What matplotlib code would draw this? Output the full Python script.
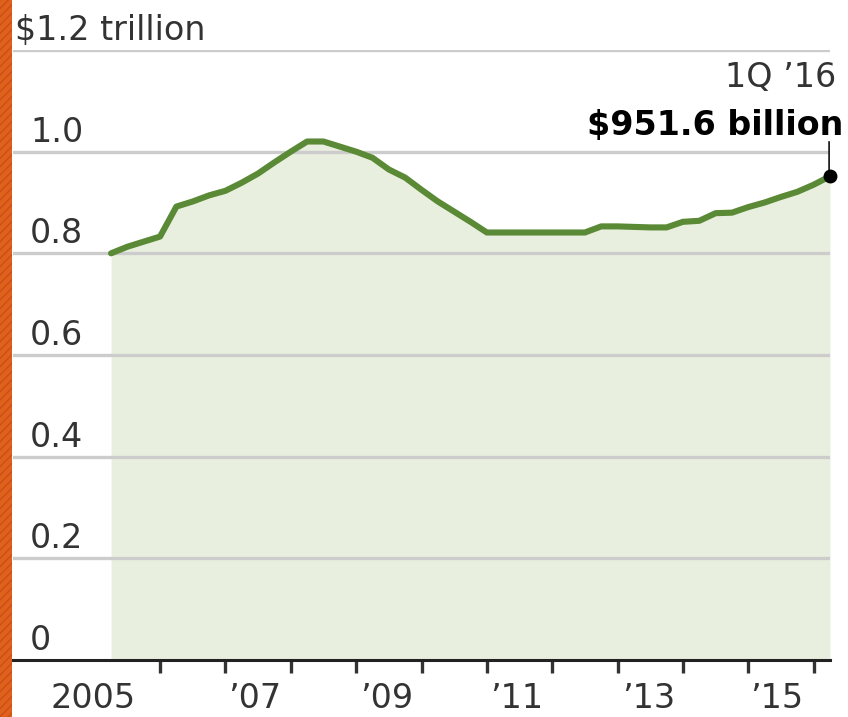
import matplotlib
matplotlib.use('Agg')
import matplotlib.pyplot as plt
import matplotlib.patches as patches
import matplotlib.transforms as mtransforms

# Quarterly values, $ trillion
quarters = [
    '2005Q1', '2005Q2', '2005Q3', '2005Q4',
    '2006Q1', '2006Q2', '2006Q3', '2006Q4',
    '2007Q1', '2007Q2', '2007Q3', '2007Q4',
    '2008Q1', '2008Q2', '2008Q3', '2008Q4',
    '2009Q1', '2009Q2', '2009Q3', '2009Q4',
    '2010Q1', '2010Q2', '2010Q3', '2010Q4',
    '2011Q1', '2011Q2', '2011Q3', '2011Q4',
    '2012Q1', '2012Q2', '2012Q3', '2012Q4',
    '2013Q1', '2013Q2', '2013Q3', '2013Q4',
    '2014Q1', '2014Q2', '2014Q3', '2014Q4',
    '2015Q1', '2015Q2', '2015Q3', '2015Q4',
    '2016Q1',
]
values = [
    0.800, 0.813, 0.823, 0.833,
    0.892, 0.902, 0.914, 0.923,
    0.939, 0.957, 0.979, 1.000,
    1.020, 1.020, 1.010, 1.000,
    0.988, 0.965, 0.949, 0.925,
    0.902, 0.882, 0.862, 0.841,
    0.841, 0.841, 0.841, 0.841,
    0.841, 0.841, 0.853, 0.853,
    0.852, 0.851, 0.851, 0.862,
    0.864, 0.879, 0.880, 0.891,
    0.900, 0.911, 0.921, 0.935,
    0.9516,
]

y_ticks = [0, 0.2, 0.4, 0.6, 0.8, 1.0]
y_tick_labels = ['0', '0.2', '0.4', '0.6', '0.8', '1.0']
year_ticks = [2006, 2007, 2008, 2009, 2010, 2011, 2012, 2013, 2014, 2015, 2016]
x_label_pos = [2004.98, 2007.45, 2009.47, 2011.45, 2013.47, 2015.43]
x_labels = ['2005', '\u201907', '\u201909', '\u201911', '\u201913', '\u201915']

# quarter -> decimal year at quarter end
x = [int(q[:4]) + int(q[-1]) / 4 for q in quarters]

LINE = '#5a8a35'
FILL = '#e9efdf'
GRID = '#cccccc'
TXT = '#333333'
FS = 24

plt.rcParams['font.family'] = ['DejaVu Sans']

fig = plt.figure(figsize=(8.48, 7.17), dpi=100)
fig.patch.set_facecolor('white')

# orange strip on the left edge
fig.patches.append(patches.Rectangle((0, 0), 12 / 848, 1, transform=fig.transFigure,
                                     facecolor='#e0601c', edgecolor='#c9501a',
                                     hatch='////', linewidth=0, zorder=0))

ax = fig.add_axes([13 / 848, 57 / 717, 817 / 848, 610 / 717])
ax.set_xlim(2003.75, 2016.25)
ax.set_ylim(0, 1.2)
ax.set_facecolor('white')

ax.fill_between(x, values, 0, color=FILL, linewidth=0, zorder=1)
for v in y_ticks[1:] + [1.2]:
    ax.axhline(v, color=GRID, linewidth=2.4, zorder=2)
ax.plot(x, values, color=LINE, linewidth=4.4, solid_joinstyle='round',
        solid_capstyle='round', zorder=3)

for s in ['top', 'right', 'left']:
    ax.spines[s].set_visible(False)
ax.spines['bottom'].set_color('#222222')
ax.spines['bottom'].set_linewidth(2.2)
ax.spines['bottom'].set_zorder(4)

ax.set_yticks([])
ax.set_xticks(year_ticks)
ax.set_xticklabels([])
ax.tick_params(axis='x', which='major', direction='out', length=9, width=2.4, color='#333333')
ax.set_xticks(x_label_pos, x_labels, minor=True)
ax.tick_params(axis='x', which='minor', length=0, pad=16, labelsize=FS, labelcolor=TXT)

# y labels sit above their gridlines, inside the plot
trans = mtransforms.blended_transform_factory(ax.transAxes, ax.transData)
for v, lab in zip(y_ticks, y_tick_labels):
    ax.text(0.0208, v + 0.006, lab, transform=trans, ha='left', va='bottom',
            fontsize=FS, color=TXT, zorder=5)
ax.text(0.0025, 1.2 + 0.006, '$1.2 trillion', transform=trans, ha='left', va='bottom',
        fontsize=FS, color=TXT, zorder=5)

# annotation for the last point
ax.plot([x[-1], x[-1]], [values[-1], 1.018], color='#222222', linewidth=2.6, zorder=4)
ax.plot(x[-1], values[-1], 'o', color='black', markersize=9, zorder=5, clip_on=False)
ax.text(2016.45, 1.019, '$951.6 billion', ha='right', va='bottom', fontsize=FS,
        fontweight='bold', color='black', zorder=5, clip_on=False)
ax.text(2016.35, 1.113, '1Q \u201916', ha='right', va='bottom', fontsize=FS,
        color=TXT, zorder=5, clip_on=False)

fig.savefig('out.png', dpi=100)
